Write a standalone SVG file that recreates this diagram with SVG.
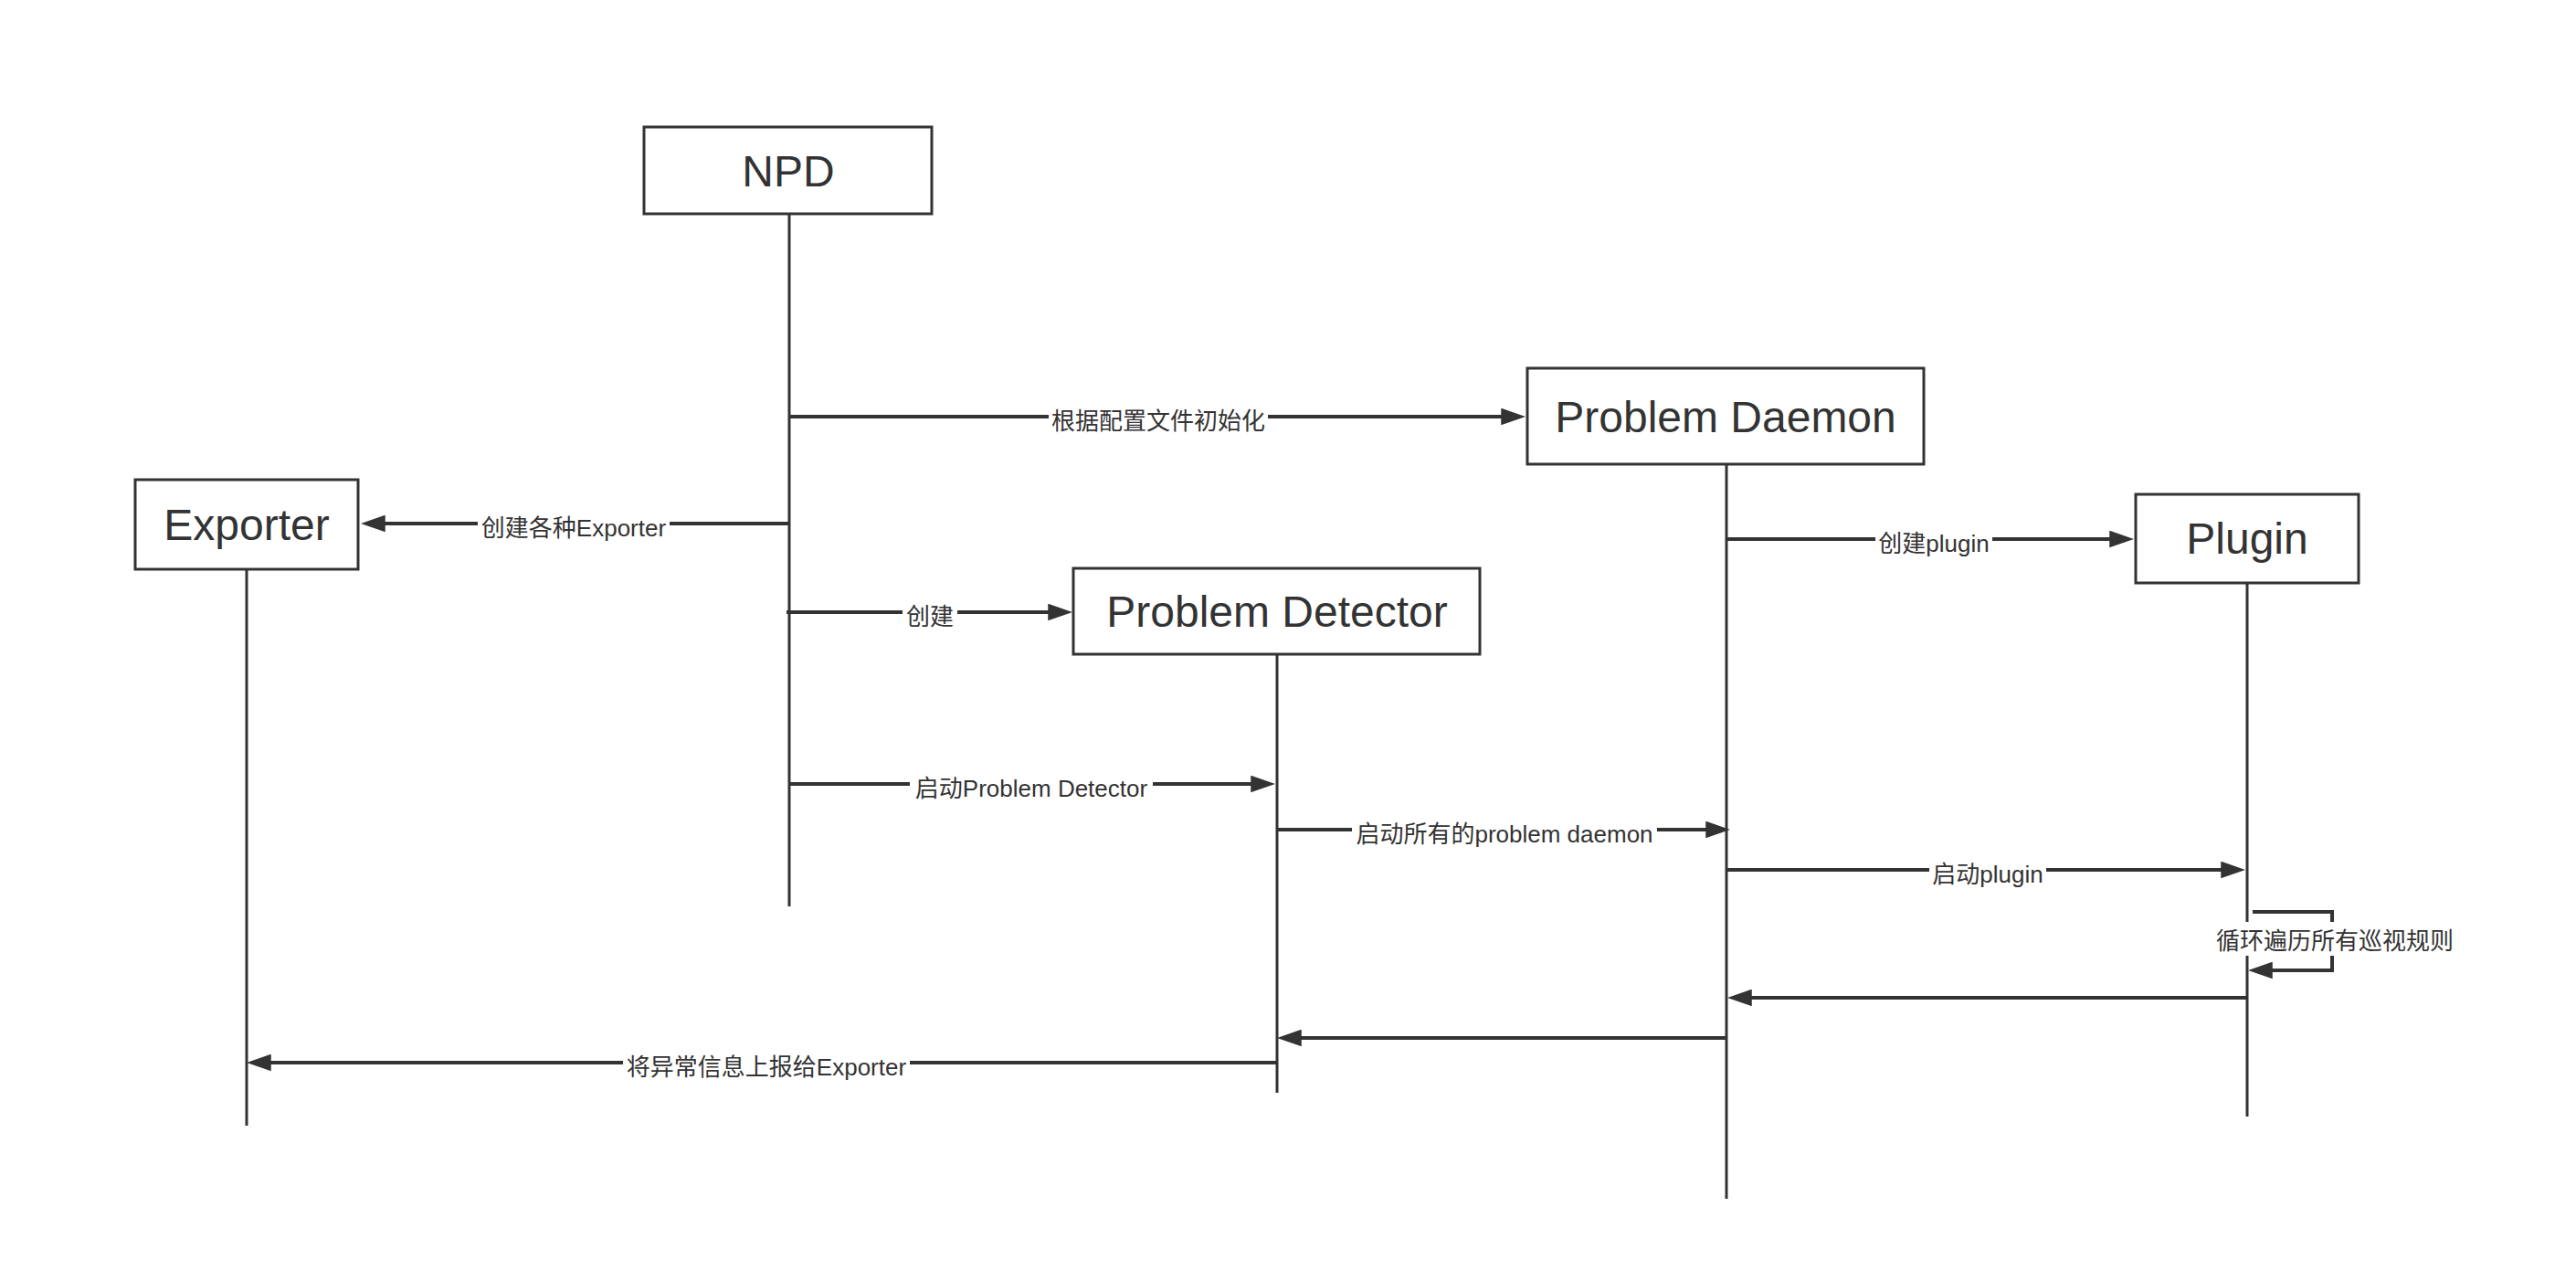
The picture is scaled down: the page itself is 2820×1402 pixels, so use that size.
<svg xmlns="http://www.w3.org/2000/svg" width="2820" height="1402" viewBox="0 0 2820 1402">
<style>
.box{fill:#fff;stroke:#333;stroke-width:3}
.life{stroke:#333;stroke-width:3;fill:none}
.msg{stroke:#333;stroke-width:4;fill:none}
.title{font-family:"Liberation Sans","Noto Sans CJK SC",sans-serif;font-size:48px;fill:#333;text-anchor:middle}
.lbl{font-family:"Liberation Sans","Noto Sans CJK SC",sans-serif;font-size:26px;fill:#333;text-anchor:middle}
.bg{fill:#fff;stroke:none}
</style>
<defs>
<marker id="arr" markerUnits="userSpaceOnUse" markerWidth="27" markerHeight="19" refX="20" refY="9" orient="auto" viewBox="0 0 26 18">
<path d="M0,0 L26,9 L0,18 z" fill="#333"/>
</marker>
</defs>
<rect width="2820" height="1402" fill="#fff"/>

<g id="lifelines">
<line class="life" x1="864" y1="234" x2="864" y2="992"/>
<line class="life" x1="270" y1="623" x2="270" y2="1232"/>
<line class="life" x1="1398" y1="716" x2="1398" y2="1196"/>
<line class="life" x1="1890" y1="508" x2="1890" y2="1312"/>
<line class="life" x1="2460" y1="638" x2="2460" y2="1222"/>
</g>

<g id="connectors">
<line class="msg" x1="864" y1="456" x2="1664" y2="456" marker-end="url(#arr)"/>
<rect class="bg" x="1148" y="440" width="240" height="34"/>
<text class="lbl" x="1268" y="470">根据配置文件初始化</text>

<line class="msg" x1="864" y1="573" x2="401" y2="573" marker-end="url(#arr)"/>
<rect class="bg" x="523" y="557" width="210" height="34"/>
<text class="lbl" x="628" y="587">创建各种Exporter</text>

<line class="msg" x1="861" y1="670" x2="1168" y2="670" marker-end="url(#arr)"/>
<rect class="bg" x="988" y="654" width="60" height="34"/>
<text class="lbl" x="1018" y="684">创建</text>

<line class="msg" x1="1890" y1="590" x2="2330" y2="590" marker-end="url(#arr)"/>
<rect class="bg" x="2053" y="574" width="128" height="34"/>
<text class="lbl" x="2117" y="604">创建plugin</text>

<line class="msg" x1="864" y1="858" x2="1390" y2="858" marker-end="url(#arr)"/>
<rect class="bg" x="996" y="842" width="266" height="34"/>
<text class="lbl" x="1129" y="872">启动Problem Detector</text>

<line class="msg" x1="1398" y1="908" x2="1888" y2="908" marker-end="url(#arr)"/>
<rect class="bg" x="1480" y="892" width="334" height="34"/>
<text class="lbl" x="1647" y="922">启动所有的problem daemon</text>

<line class="msg" x1="1890" y1="952" x2="2452" y2="952" marker-end="url(#arr)"/>
<rect class="bg" x="2112" y="936" width="128" height="34"/>
<text class="lbl" x="2176" y="966">启动plugin</text>

<path class="msg" d="M2466,998 H2553 V1062 H2467" marker-end="url(#arr)"/>
<rect class="bg" x="2425" y="1009" width="263" height="37"/>
<text class="lbl" x="2556" y="1039">循环遍历所有巡视规则</text>

<line class="msg" x1="2460" y1="1092" x2="1897" y2="1092" marker-end="url(#arr)"/>

<line class="msg" x1="1890" y1="1136" x2="1404" y2="1136" marker-end="url(#arr)"/>

<line class="msg" x1="1398" y1="1163" x2="276" y2="1163" marker-end="url(#arr)"/>
<rect class="bg" x="682" y="1147" width="314" height="34"/>
<text class="lbl" x="839" y="1177">将异常信息上报给Exporter</text>
</g>

<g id="node-npd">
<rect class="box" x="705" y="139" width="315" height="95"/>
<text class="title" x="863" y="204">NPD</text>
</g>
<g id="node-exporter">
<rect class="box" x="148" y="525" width="244" height="98"/>
<text class="title" x="270" y="591">Exporter</text>
</g>
<g id="node-problem-detector">
<rect class="box" x="1175" y="622" width="445" height="94"/>
<text class="title" x="1398" y="686">Problem Detector</text>
</g>
<g id="node-problem-daemon">
<rect class="box" x="1672" y="403" width="434" height="105"/>
<text class="title" x="1889" y="473">Problem Daemon</text>
</g>
<g id="node-plugin">
<rect class="box" x="2338" y="541" width="244" height="97"/>
<text class="title" x="2460" y="606">Plugin</text>
</g>
</svg>
